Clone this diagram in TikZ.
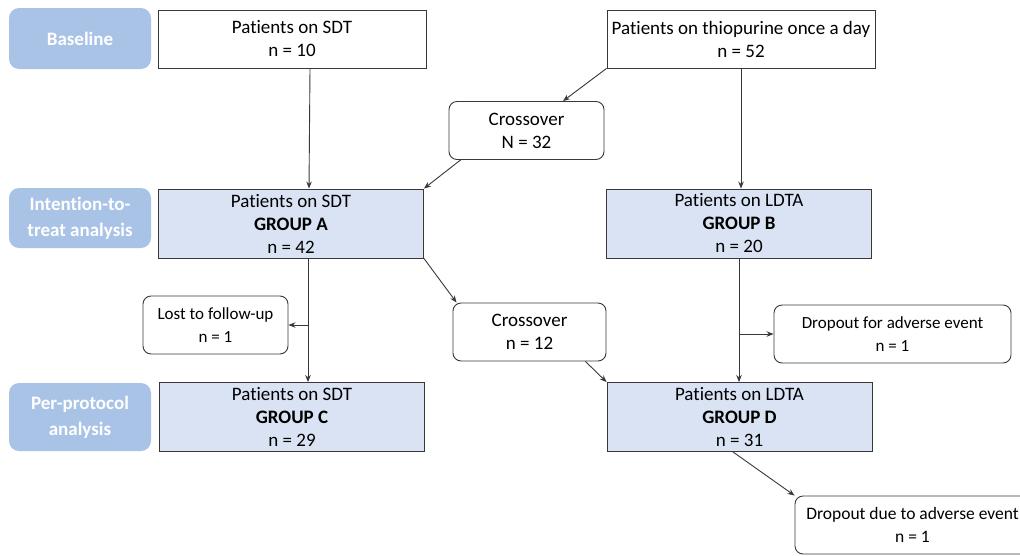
\documentclass[tikz,border=0pt]{standalone}
\usepackage{fontspec}
\setmainfont{Carlito}[Ligatures=NoCommon]
\usetikzlibrary{positioning, calc, arrows.meta}
\definecolor{lblblue}{HTML}{A9C3E6}
\definecolor{grpblue}{HTML}{DAE3F3}
\definecolor{edgegray}{HTML}{383838}

\begin{document}
\begin{tikzpicture}[x=1pt, y=-1pt, >={Stealth[length=7pt,width=5.5pt]},
    box/.style={rectangle, draw=edgegray, line width=0.9pt, align=center,
      inner sep=2pt, font=\fontsize{19}{23}\selectfont},
    grp/.style={box, fill=grpblue, minimum width=265pt, minimum height=69pt},
    rbox/.style={box, rounded corners=8pt, minimum height=58pt},
    lbl/.style={rectangle, rounded corners=10pt, fill=lblblue, text=white,
      align=center, minimum width=142pt, font=\fontsize{19}{26}\selectfont\bfseries},
    arr/.style={->, draw=edgegray, line width=0.9pt}]

  \useasboundingbox (0,0) rectangle (1020,555);

  % stage labels
  \node[lbl, minimum height=61pt] (base) at (80,38.5) {Baseline};
  \node[lbl, minimum height=60pt] (itt) at (80,218) {Intention-to-\\treat analysis};
  \node[lbl, minimum height=68pt] (pp) at (80,417) {Per-protocol\\analysis};

  % baseline
  \node[box, minimum width=268pt, minimum height=58pt] (sdt) at (292,39) {Patients on SDT\\n = 10};
  \node[box, minimum width=268pt, minimum height=58pt] (thio) at (741,39) {Patients on thiopurine once a day\\n = 52};
  \node[rbox, minimum width=155pt] (crossA) at (526.5,130.5) {Crossover\\N = 32};

  % intention-to-treat
  \node[grp] (grpA) at (291,223.5) {Patients on SDT\\\textbf{GROUP A}\\n = 42};
  \node[grp] (grpB) at (739,223.5) {Patients on LDTA\\\textbf{GROUP B}\\n = 20};
  \node[rbox, minimum width=145pt, font=\fontsize{17}{23}\selectfont] (lost) at (215.5,325) {Lost to follow-up\\n = 1};
  \node[rbox, minimum width=153pt] (crossB) at (529.5,332) {Crossover\\n = 12};
  \node[rbox, minimum width=237pt, font=\fontsize{17}{23}\selectfont] (dropB) at (892.5,334) {Dropout for adverse event\\n = 1};

  % per-protocol
  \node[grp] (grpC) at (292,417) {Patients on SDT\\\textbf{GROUP C}\\n = 29};
  \node[grp] (grpD) at (739.5,417) {Patients on LDTA\\\textbf{GROUP D}\\n = 31};
  \node[rbox, minimum width=235pt, font=\fontsize{17.5}{23}\selectfont] (dropD) at (912.5,525) {Dropout due to adverse event\\n = 1};

  \draw[arr] ([xshift=18pt]sdt.south) -- ([xshift=18pt]grpA.north);
  \draw[arr] (thio.south west) -- ([xshift=36.5pt]crossA.north);
  \draw[arr] (thio.south) -- (thio.south |- grpB.north);
  \draw[arr] ([xshift=12pt]crossA.south west) -- (grpA.north east);

  \coordinate (split) at ([xshift=17pt]grpA.south |- lost.east);
  \draw[arr] ([xshift=17pt]grpA.south) -- ([xshift=17pt]grpA.south |- grpC.north);
  \draw[arr] (split) -- (lost.east);
  \draw[arr] (grpA.south east) -- ([xshift=4pt]crossB.north west);

  \coordinate (splitB) at (grpB.south |- dropB.west);
  \draw[arr] (grpB.south) -- (grpB.south |- grpD.north);
  \draw[arr] (splitB) -- (dropB.west);
  \draw[arr] ([xshift=-21pt]crossB.south east) -- (grpD.north west);
  \draw[arr] ([xshift=-6.5pt]grpD.south) -- (dropD.north west);
\end{tikzpicture}
\end{document}
